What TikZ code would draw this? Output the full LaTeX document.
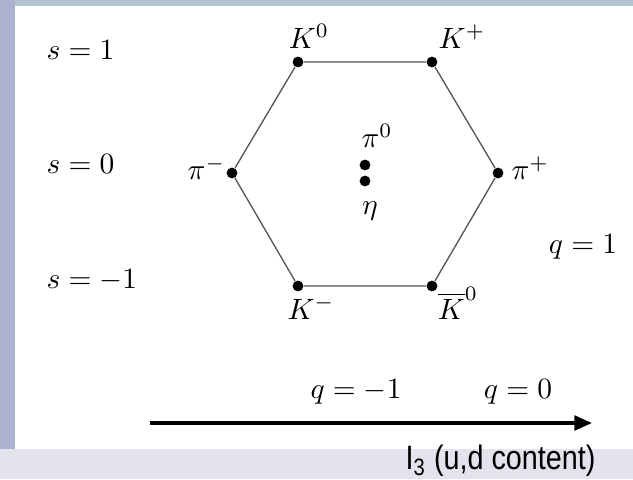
\documentclass[tikz,border=0pt]{standalone}
\usepackage{fontspec}
\newfontfamily\arialfont{Liberation Sans}
\usetikzlibrary{arrows.meta,positioning}
\definecolor{backlight}{RGB}{226,227,236}
\definecolor{backblue}{RGB}{172,178,208}
\definecolor{backteal}{RGB}{178,196,208}
\definecolor{edgegrey}{RGB}{85,85,85}
\tikzset{
  meson/.style = {circle, fill=black, inner sep=1.3pt},
  side/.style  = {draw=edgegrey, line width=0.45pt},
  lbl/.style   = {inner sep=0pt},
  axis/.style  = {-{Triangle[length=6pt,width=5pt]}, line width=1.1pt},
}

\begin{document}
\begin{tikzpicture}[x=0.34pt,y=-0.34pt]
  % slide background
  \fill[backlight] (0,0) rectangle (633,479);
  \fill[backblue] (0,0) rectangle (15,449);
  \fill[backteal] (15,0) rectangle (633,6);
  \fill[white] (15,6) rectangle (633,449);
  \useasboundingbox (0,0) rectangle (633,479);

  % the octet
  \node[meson] (k0)  at (298,62)  {};
  \node[meson] (kp)  at (432,62)  {};
  \node[meson] (pip) at (498,173) {};
  \node[meson] (kb0) at (432,286) {};
  \node[meson] (km)  at (298,286) {};
  \node[meson] (pim) at (232,173) {};
  \node[meson] (pi0) at (365,165) {};
  \node[meson] (eta) at (365,181) {};
  \draw[side] (k0) -- (kp) -- (pip) -- (kb0) -- (km) -- (pim) -- (k0);

  \node[lbl, anchor=base] (k0lbl)  at (309,48)  {$K^0$};
  \node[lbl, anchor=base] (kplbl)  at (462,48)  {$K^+$};
  \node[lbl, anchor=east] (pimlbl) at (226,168) {$\pi^-$};
  \node[lbl, anchor=west] (piplbl) at (511,168) {$\pi^+$};
  \node[lbl] (pi0lbl) at (377,136) {$\pi^0$};
  \node[lbl] (etalbl) at (370,211) {$\eta$};
  \node[lbl, anchor=base] (kmlbl)  at (311,319) {$K^-$};
  \node[lbl, anchor=base] (kb0lbl) at (458,319) {$\overline{K}^0$};

  % quantum numbers
  \node[lbl, anchor=base west] (s1)  at (46,59)  {$s=1$};
  \node[lbl, anchor=base west] (s0)  at (46,173) {$s=0$};
  \node[lbl, anchor=base west] (sm1) at (46,288) {$s=-1$};
  \node[lbl] (q1)  at (583,247) {$q=1$};
  \node[lbl] (qm1) at (356,392) {$q=-1$};
  \node[lbl] (q0)  at (518,392) {$q=0$};

  % isospin axis
  \coordinate (ax0) at (150,423);
  \coordinate (ax1) at (592,423);
  \draw[axis] (ax0) -- (ax1);
  \node[lbl, anchor=east] (i3) at (596,461)
    {\scalebox{0.85}[1]{\arialfont\fontsize{11.5}{13}\selectfont I\textsubscript{3} (u,d content)}};
\end{tikzpicture}
\end{document}
